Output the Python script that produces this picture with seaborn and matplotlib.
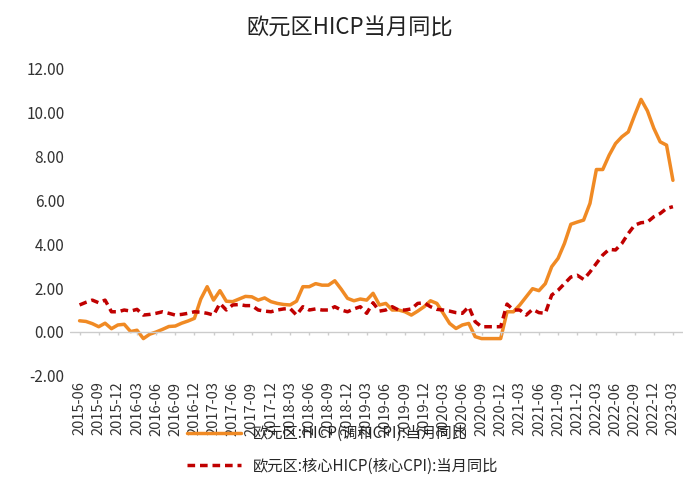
import numpy as np
import pandas as pd
import seaborn as sns
import matplotlib.pyplot as plt

months = pd.period_range("2015-06", "2023-03", freq="M").strftime("%Y-%m").tolist()

hicp = [0.51, 0.48, 0.38, 0.24, 0.40, 0.15, 0.32,
        0.35, 0.02, 0.08, -0.30, -0.10, 0.00, 0.12, 0.25, 0.27, 0.40, 0.50, 0.62,
        1.50, 2.06, 1.45, 1.88, 1.40, 1.38, 1.50, 1.62, 1.60, 1.45, 1.55, 1.38,
        1.30, 1.25, 1.23, 1.40, 2.06, 2.06, 2.20, 2.13, 2.13, 2.33, 1.95, 1.53,
        1.42, 1.50, 1.45, 1.76, 1.23, 1.30, 1.00, 1.00, 0.92, 0.77, 0.95, 1.15,
        1.42, 1.30, 0.85, 0.39, 0.16, 0.32, 0.39, -0.21, -0.30, -0.30, -0.30, -0.30,
        0.92, 0.92, 1.23, 1.60, 1.97, 1.88, 2.20, 2.97, 3.35, 4.03, 4.90, 5.00,
        5.09, 5.85, 7.39, 7.39, 8.04, 8.57, 8.88, 9.10, 9.86, 10.58, 10.06, 9.27,
        8.65, 8.50, 6.90]

core = [1.23, 1.35, 1.45, 1.33, 1.45, 0.92, 0.92,
        1.00, 0.95, 1.03, 0.77, 0.80, 0.85, 0.92, 0.85, 0.77, 0.80, 0.85, 0.92,
        0.90, 0.85, 0.77, 1.30, 1.00, 1.23, 1.25, 1.20, 1.20, 1.00, 0.95, 0.92,
        1.00, 1.05, 1.07, 0.77, 1.15, 1.00, 1.05, 1.00, 1.00, 1.15, 1.00, 0.92,
        1.05, 1.15, 0.85, 1.33, 0.95, 1.00, 1.15, 1.00, 1.00, 1.05, 1.30, 1.33,
        1.15, 1.03, 1.00, 0.95, 0.88, 0.85, 1.15, 0.47, 0.24, 0.24, 0.24, 0.24,
        1.27, 1.00, 1.00, 0.77, 1.03, 0.88, 0.85, 1.68, 1.90, 2.20, 2.50, 2.58,
        2.39, 2.73, 3.12, 3.50, 3.76, 3.73, 4.03, 4.48, 4.86, 4.97, 5.00, 5.24,
        5.39, 5.62, 5.70]

label_hicp = "欧元区:HICP(调和CPI):当月同比"
label_core = "欧元区:核心HICP(核心CPI):当月同比"

sns.set_style("white")
plt.rcParams['font.family'] = ['Noto Sans CJK SC', 'DejaVu Sans']

df = pd.DataFrame({"month": months, "hicp": hicp, "core": core})
df["i"] = np.arange(len(df))

fig = plt.figure(figsize=(7, 4.87), dpi=100)
ax = fig.add_axes([0.1, 0.228, 0.875, 0.632])

sns.lineplot(data=df, x="i", y="hicp", ax=ax, color="#f08a24", lw=2.5, label=label_hicp)
sns.lineplot(data=df, x="i", y="core", ax=ax, color="#c00000", lw=2.5,
             linestyle=(0, (2.2, 1.4)), label=label_core)

ax.set_ylim(-2, 12)
ax.set_yticks(np.arange(-2, 13, 2))
ax.set_yticklabels([f"{v:.2f}" for v in np.arange(-2, 13, 2)], fontsize=11, color="#333333")
ticks = df["i"][::3]
ax.set_xticks(ticks)
ax.set_xticklabels(df["month"][::3], rotation=90, fontsize=10.5, color="#333333")
ax.set_xlim(-1.5, len(df) + 0.5)
ax.tick_params(length=0, pad=4)
ax.axhline(0, color="#cccccc", lw=1)
ax.vlines(ticks, -0.15, 0, color="#cccccc", lw=1)
for s in ax.spines.values():
    s.set_visible(False)
ax.set_xlabel("")
ax.set_ylabel("")

fig.suptitle("欧元区HICP当月同比", fontsize=16, y=0.965, color="#222222")
handles, labels = ax.get_legend_handles_labels()
ax.get_legend().remove()
fig.legend(handles, labels, loc="upper center", bbox_to_anchor=(0.49, 0.155), frameon=False,
           ncol=1, fontsize=11, handlelength=3.5, labelspacing=1.0)

fig.savefig("out.png", dpi=100)
